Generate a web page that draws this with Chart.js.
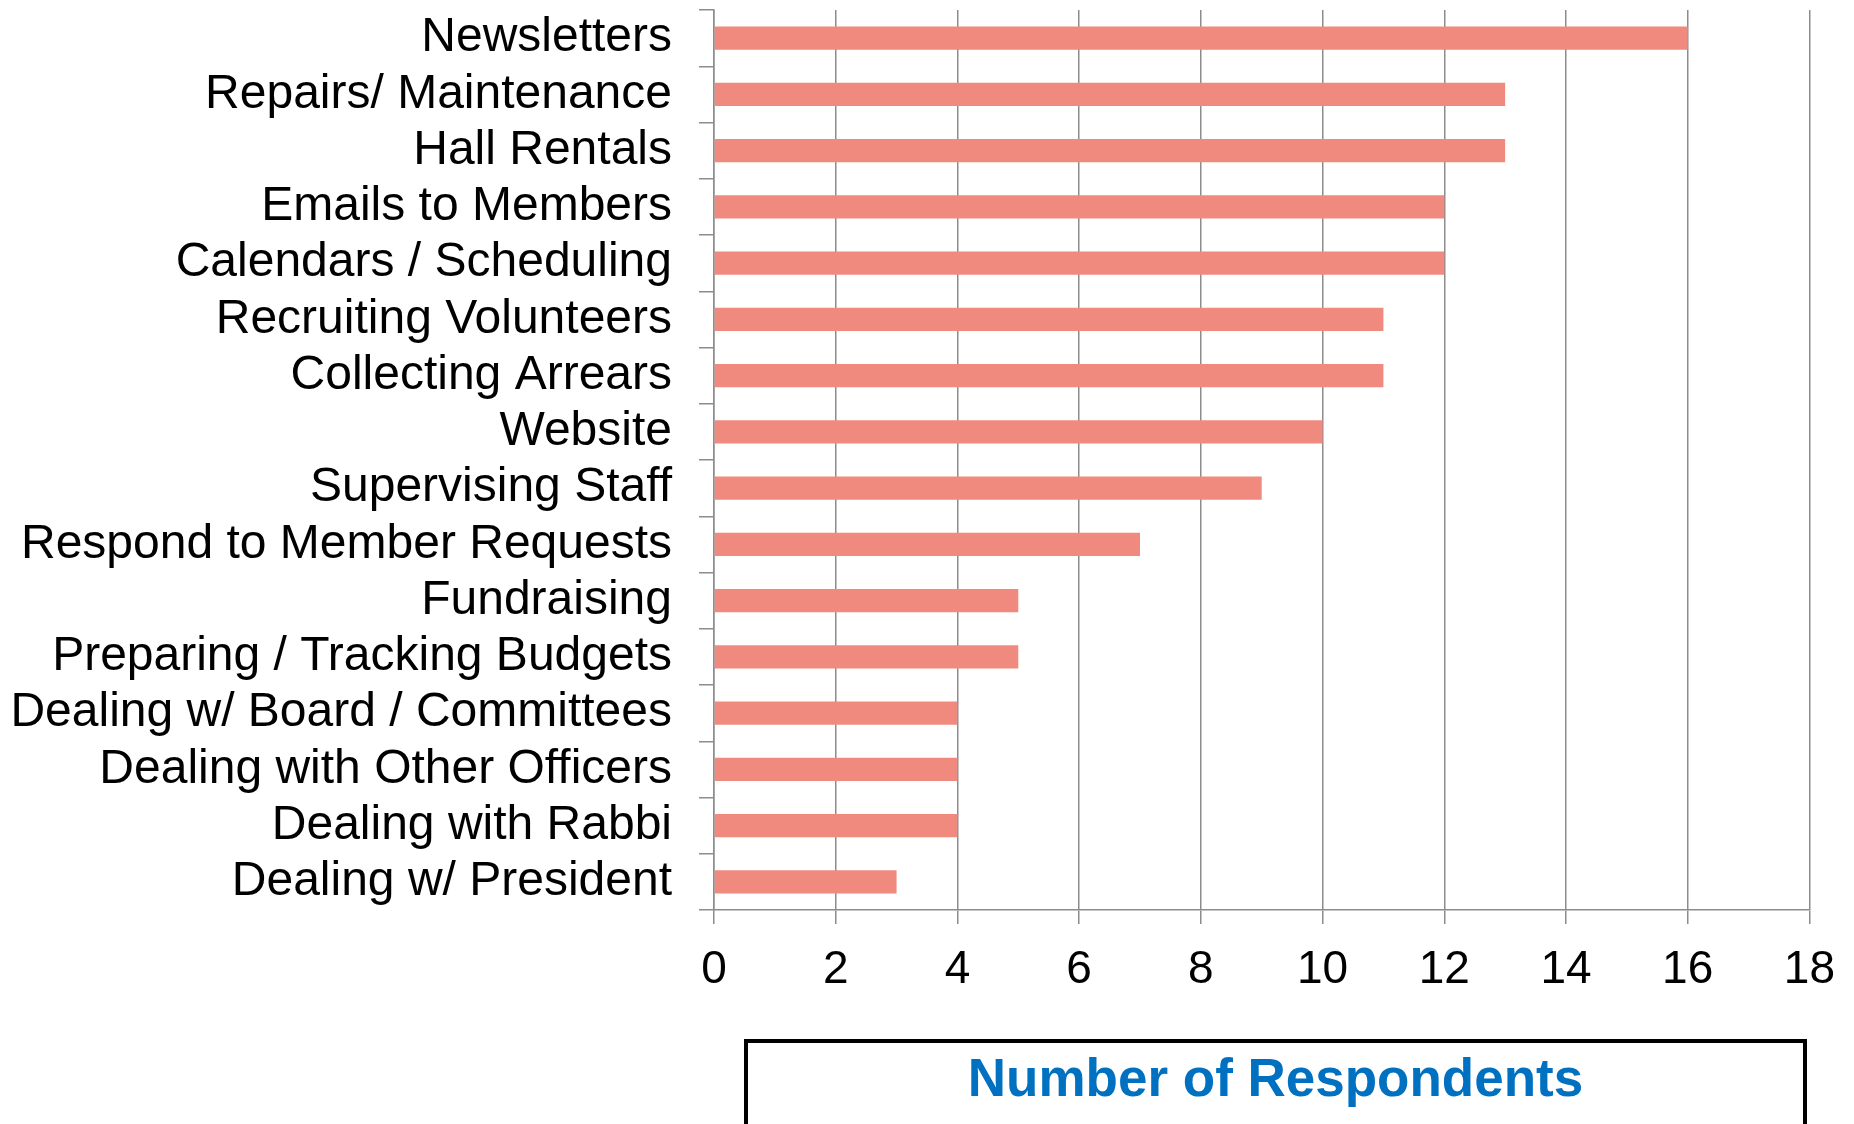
<!DOCTYPE html>
<html>
<head>
<meta charset="utf-8">
<script src="https://cdn.jsdelivr.net/npm/chart.js@4/dist/chart.umd.min.js"></script>
<style>
  html, body { margin: 0; padding: 0; background: #fff; }
  #wrap { position: relative; width: 1854px; height: 1124px; overflow: hidden; }
  #tasksChart { position: absolute; left: 0; top: 0; }
  #axisTitle {
    position: absolute; left: 744px; top: 1039px; width: 1063px; height: 120px;
    border: 4px solid #000; box-sizing: border-box;
    font-family: "Liberation Sans", Arial, sans-serif; font-weight: bold;
    font-size: 53px; color: #0070C0; text-align: center; line-height: 70px;
  }
</style>
</head>
<body>
<div id="wrap">
  <canvas id="tasksChart" width="1854" height="1124"></canvas>
  <div id="axisTitle">Number of Respondents</div>
</div>
<script>
const tasks = [
    'Newsletters', 'Repairs/ Maintenance', 'Hall Rentals', 'Emails to Members',
    'Calendars / Scheduling', 'Recruiting Volunteers', 'Collecting Arrears', 'Website',
    'Supervising Staff', 'Respond to Member Requests', 'Fundraising',
    'Preparing / Tracking Budgets', 'Dealing w/ Board / Committees',
    'Dealing with Other Officers', 'Dealing with Rabbi', 'Dealing w/ President'
];
const respondents = [16, 13, 13, 12, 12, 11, 11, 10, 9, 7, 5, 5, 4, 4, 4, 3];
const xTicks = [0, 2, 4, 6, 8, 10, 12, 14, 16, 18];

const axisGray = '#8c8c8c';
const fontFamily = '"Liberation Sans", Arial, sans-serif';

function initTasksChart() {
    const ctx = document.getElementById('tasksChart').getContext('2d');
    new Chart(ctx, {
        type: 'bar',
        data: {
            labels: tasks,
            datasets: [{
                label: 'Respondents',
                data: respondents,
                backgroundColor: '#F08A7E',
                categoryPercentage: 1,
                barPercentage: 0.41
            }]
        },
        options: {
            indexAxis: 'y',
            responsive: false,
            animation: false,
            layout: { padding: { top: 10, right: 44, bottom: 0, left: 0 } },
            plugins: { legend: { display: false }, tooltip: { enabled: false } },
            scales: {
                x: {
                    min: 0,
                    max: 18,
                    afterFit: (scale) => { scale.height = 214; },
                    afterBuildTicks: (scale) => {
                        scale.ticks = xTicks.map(v => ({ value: v }));
                    },
                    grid: { color: axisGray, lineWidth: 1.5, tickLength: 14, drawTicks: true },
                    border: { color: axisGray, width: 1.5 },
                    ticks: { color: '#000', font: { family: fontFamily, size: 46 }, padding: 19, maxRotation: 0 }
                },
                y: {
                    afterFit: (scale) => {
                        scale.width = 714;
                        // labels sit between the category ticks, so no extra room above/below
                        scale.paddingTop = 0;
                        scale.paddingBottom = 0;
                    },
                    grid: { drawOnChartArea: false, color: axisGray, lineWidth: 1.5, tickLength: 15 },
                    border: { color: axisGray, width: 1.5 },
                    ticks: { color: '#000', font: { family: fontFamily, size: 48 }, padding: 27, autoSkip: false }
                }
            }
        }
    });
}

initTasksChart();
</script>
</body>
</html>
